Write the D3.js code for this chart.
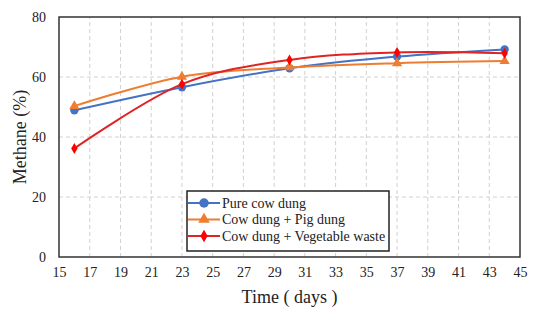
<!DOCTYPE html>
<html>
<head>
<meta charset="utf-8">
<script src="https://cdn.jsdelivr.net/npm/d3@7"></script>
<style>
body { margin: 0; background: #fff; }
</style>
</head>
<body>
<svg id="chart"></svg>
<script>
var days = [16, 23, 30, 37, 44];
var pureCowDung = [48.9, 56.6, 62.9, 66.8, 69.2];
var cowPigDung = [50.3, 60.1, 63.2, 64.6, 65.3];
var cowVegWaste = [36.2, 57.6, 65.7, 68.2, 67.9];
var seriesNames = ["Pure cow dung", "Cow dung + Pig dung", "Cow dung + Vegetable waste"];
var xTicks = [15, 17, 19, 21, 23, 25, 27, 29, 31, 33, 35, 37, 39, 41, 43, 45];
var yTicks = [0, 20, 40, 60, 80];

var width = 535, height = 319;
var margin = {left: 59, top: 17, right: 15, bottom: 62};
var serif = "'Liberation Serif', 'Times New Roman', serif";

var svg = d3.select("#chart")
    .attr("width", width)
    .attr("height", height);

var x = d3.scaleLinear().domain([15, 45]).range([margin.left, width - margin.right]);
var y = d3.scaleLinear().domain([0, 80]).range([height - margin.bottom, margin.top]);

// grid
svg.append("g").selectAll("line")
    .data(xTicks.slice(1, -1))
    .enter().append("line")
    .attr("x1", function(d){ return x(d); })
    .attr("x2", function(d){ return x(d); })
    .attr("y1", y(0)).attr("y2", y(80))
    .attr("stroke", "#d0d0d0").attr("stroke-dasharray", "4,3");
svg.append("g").selectAll("line")
    .data(yTicks.slice(1, -1))
    .enter().append("line")
    .attr("y1", function(d){ return y(d); })
    .attr("y2", function(d){ return y(d); })
    .attr("x1", x(15)).attr("x2", x(45))
    .attr("stroke", "#d0d0d0").attr("stroke-dasharray", "4,3");

// axes
var xAxis = svg.append("g")
    .attr("transform", "translate(0," + y(0) + ")")
    .call(d3.axisBottom(x).tickValues(xTicks).tickSize(0).tickPadding(10));
var yAxis = svg.append("g")
    .attr("transform", "translate(" + x(15) + ",0)")
    .call(d3.axisLeft(y).tickValues(yTicks).tickSize(0).tickPadding(13));
xAxis.select(".domain").remove();
yAxis.select(".domain").remove();
xAxis.attr("font-family", serif).attr("font-size", 14);
yAxis.attr("font-family", serif).attr("font-size", 14);
svg.selectAll(".tick text").attr("fill", "#222");

// plot frame
svg.append("rect")
    .attr("x", x(15)).attr("y", y(80))
    .attr("width", x(45) - x(15)).attr("height", y(0) - y(80))
    .attr("fill", "none").attr("stroke", "#333").attr("stroke-width", 1.5);

// series
var series = [
    {name: seriesNames[0], values: pureCowDung, line: "#4472C4", fill: "#4472C4", shape: d3.symbolCircle, size: 55},
    {name: seriesNames[1], values: cowPigDung, line: "#ED7D31", fill: "#ED7D31", shape: d3.symbolTriangle, size: 45},
    {name: seriesNames[2], values: cowVegWaste, line: "#E02424", fill: "#FF0000", shape: d3.symbolDiamond, size: 35}
];

var line = d3.line()
    .x(function(d){ return x(d[0]); })
    .y(function(d){ return y(d[1]); })
    .curve(d3.curveCardinal);

series.forEach(function(s){
    var pts = days.map(function(d, i){ return [d, s.values[i]]; });
    svg.append("path")
        .datum(pts)
        .attr("d", line)
        .attr("fill", "none")
        .attr("stroke", s.line)
        .attr("stroke-width", 2);
    svg.append("g").selectAll("path")
        .data(pts)
        .enter().append("path")
        .attr("d", d3.symbol().type(s.shape).size(s.size))
        .attr("transform", function(d){ return "translate(" + x(d[0]) + "," + y(d[1]) + ")"; })
        .attr("fill", s.fill);
});

// legend
var legend = svg.append("g").attr("transform", "translate(187,191)");
legend.append("rect")
    .attr("width", 202).attr("height", 60)
    .attr("fill", "#fff").attr("stroke", "#222").attr("stroke-width", 1.5);
series.forEach(function(s, i){
    var ly = 12 + i * 16.5;
    legend.append("line")
        .attr("x1", 1).attr("x2", 33).attr("y1", ly).attr("y2", ly)
        .attr("stroke", s.line).attr("stroke-width", 2);
    legend.append("path")
        .attr("d", d3.symbol().type(s.shape).size(s.size * 1.3))
        .attr("transform", "translate(17," + ly + ")")
        .attr("fill", s.fill);
    legend.append("text")
        .attr("x", 35).attr("y", ly + 4.5)
        .attr("font-family", serif)
        .attr("font-size", 14)
        .attr("fill", "#222")
        .text(s.name);
});

// axis titles
svg.append("text")
    .attr("x", (x(15) + x(45)) / 2).attr("y", 303)
    .attr("text-anchor", "middle")
    .attr("font-family", serif)
    .attr("font-size", 18)
    .attr("fill", "#222")
    .text("Time ( days )");
svg.append("text")
    .attr("transform", "translate(26," + ((y(0) + y(80)) / 2) + ") rotate(-90)")
    .attr("text-anchor", "middle")
    .attr("font-family", serif)
    .attr("font-size", 18)
    .attr("fill", "#222")
    .text("Methane (%)");
</script>
</body>
</html>
